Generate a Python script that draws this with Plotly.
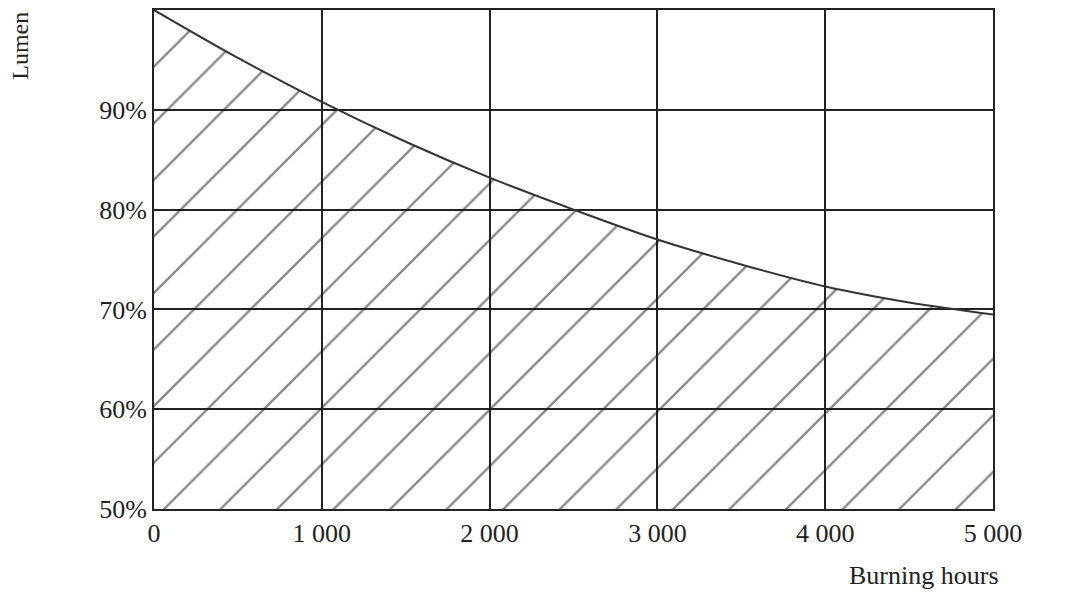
import plotly.graph_objects as go

hours = [0, 500, 1000, 1500, 2000, 2500, 3000, 3500, 4000, 4500, 5000]
lumen = [100, 95.2, 90.8, 86.8, 83.2, 80.0, 77.0, 74.5, 72.3, 70.7, 69.5]

x_ticks = [0, 1000, 2000, 3000, 4000, 5000]
x_labels = ["0", "1 000", "2 000", "3 000", "4 000", "5 000"]
y_ticks = [50, 60, 70, 80, 90, 100]
y_labels = ["50%", "60%", "70%", "80%", "90%", "100%"]

fig = go.Figure()
fig.add_trace(go.Scatter(
    x=hours, y=lumen, mode="lines",
    line=dict(color="#333", width=2, shape="spline"),
    fill="tozeroy", fillcolor="rgba(0,0,0,0)",
    fillpattern=dict(shape="/", size=40, solidity=0.06, fgcolor="#111",
                     bgcolor="rgba(0,0,0,0)"),
))

font = dict(family="Liberation Serif", size=26, color="#222")
fig.update_layout(
    width=1080, height=602,
    margin=dict(l=146, r=95, t=0, b=101),
    plot_bgcolor="white", paper_bgcolor="white",
    showlegend=False, font=font,
)
fig.update_xaxes(range=[0, 5000], tickvals=x_ticks, ticktext=x_labels,
                 showgrid=True, gridcolor="#222", gridwidth=1.5,
                 showline=True, linecolor="#222", linewidth=2, mirror=True,
                 zeroline=False, ticks="", layer="above traces")
fig.update_yaxes(range=[50, 100], tickvals=y_ticks, ticktext=y_labels,
                 showgrid=True, gridcolor="#222", gridwidth=1.5,
                 showline=True, linecolor="#222", linewidth=2, mirror=True,
                 zeroline=False, ticks="", layer="above traces")
fig.add_annotation(text="Burning hours", xref="paper", yref="paper", x=1.01, y=-0.1,
                   xanchor="right", yanchor="top", showarrow=False, font=font)
fig.add_annotation(text="Lumen", xref="paper", yref="paper", x=-0.16, y=1.0,
                   xanchor="center", yanchor="top", textangle=-90, showarrow=False,
                   font=dict(family="Liberation Serif", size=24, color="#222"))

fig.write_html("out.html")
